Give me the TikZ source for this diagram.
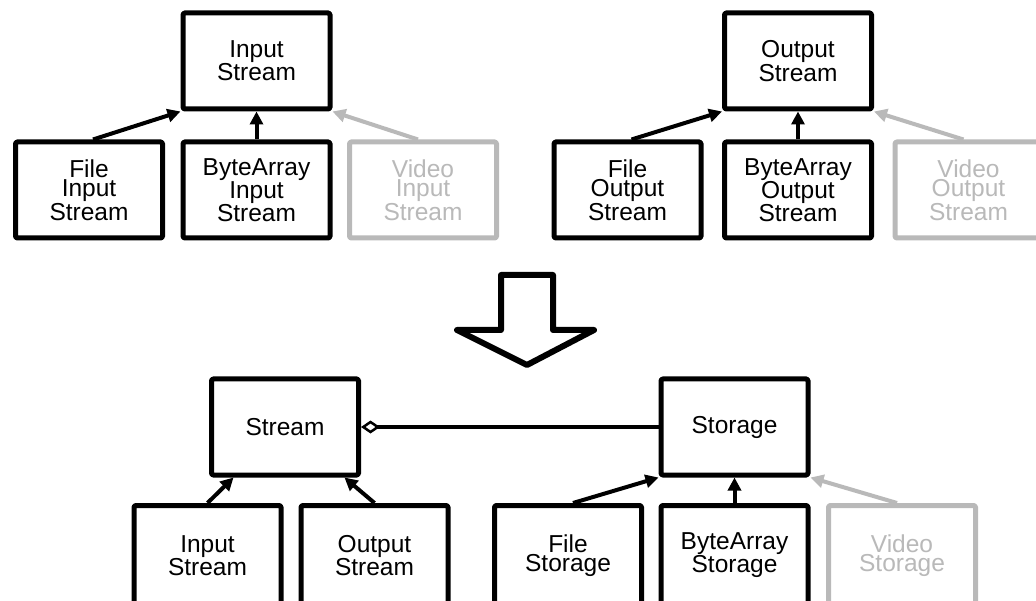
\documentclass[tikz,border=0pt]{standalone}
\usepackage{fontspec}
\setmainfont{Liberation Sans}
\usetikzlibrary{arrows.meta,calc}
\definecolor{ghost}{RGB}{185,185,185}
\tikzset{
  cls/.style={draw=black, line width=5pt, rounded corners=1.5pt, line join=round,
    minimum width=147pt, minimum height=96pt, align=center, inner sep=0pt,
    fill=white, font=\fontsize{24.5}{19.5}\selectfont},
  ghostcls/.style={cls, draw=ghost, text=ghost},
  lowcls/.style={minimum height=100pt},
  inh/.style={draw=black, line width=4pt, -{Triangle[length=13pt,width=13pt]}},
  ghostinh/.style={inh, draw=ghost},
  agg/.style={draw=black, line width=3.5pt, {Diamond[open,length=19pt,width=13pt,line width=2.5pt]}-},
  bigarrow/.style={draw=black, line width=6pt, line join=round, fill=white}
}
\begin{document}
\begin{tikzpicture}[x=1pt,y=-1pt]
\useasboundingbox (0,0) rectangle (1036,601);
\fill[white] (0,0) rectangle (1036,601);

% top-left group
\node[cls] (is)  at (256.5,61)  {Input\\Stream};
\node[cls] (fis) at (89,190)  {File\\Input\\Stream};
\node[cls] (bis) at (256.5,190) {ByteArray\\Input\\Stream};
\node[ghostcls] (vis) at (423,190) {Video\\Input\\Stream};
\draw[inh] ([xshift=4pt]fis.north) -- (is.south west);
\draw[inh] (bis) -- (is);
\draw[ghostinh] ([xshift=-5pt]vis.north) -- (is.south east);

% top-right group
\node[cls] (os)  at (798,61)  {Output\\Stream};
\node[cls] (fos) at (627.5,190) {File\\Output\\Stream};
\node[cls] (bos) at (798,190) {ByteArray\\Output\\Stream};
\node[ghostcls] (vos) at (968.5,190) {Video\\Output\\Stream};
\draw[inh] ([xshift=4pt]fos.north) -- (os.south west);
\draw[inh] (bos) -- (os);
\draw[ghostinh] ([xshift=-5pt]vos.north) -- (os.south east);

% big arrow
\draw[bigarrow] (501,275) -- (553,275) -- (553,330) -- (594,330) -- (527,365)
  -- (457,330) -- (501,330) -- cycle;

% bottom group
\node[cls] (stream)  at (285,427)   {Stream};
\node[cls] (storage) at (734.5,427) {Storage};
\node[cls,lowcls] (ins)  at (207.5,555.5) {Input\\Stream};
\node[cls,lowcls] (outs) at (374.5,555.5) {Output\\Stream};
\node[cls,lowcls] (fst)  at (568,555.5)   {File\\Storage};
\node[cls,lowcls] (bst)  at (734.5,555.5) {ByteArray\\Storage};
\node[ghostcls,lowcls] (vst) at (902,555.5) {Video\\Storage};

\draw[agg] (stream.east) -- (storage.west);
\draw[inh] (ins.north) -- (stream);
\draw[inh] (outs.north) -- (stream);
\draw[inh] ([xshift=5pt]fst.north) -- (storage.south west);
\draw[inh] (bst) -- (storage);
\draw[ghostinh] ([xshift=-5pt]vst.north) -- (storage.south east);
\end{tikzpicture}
\end{document}
